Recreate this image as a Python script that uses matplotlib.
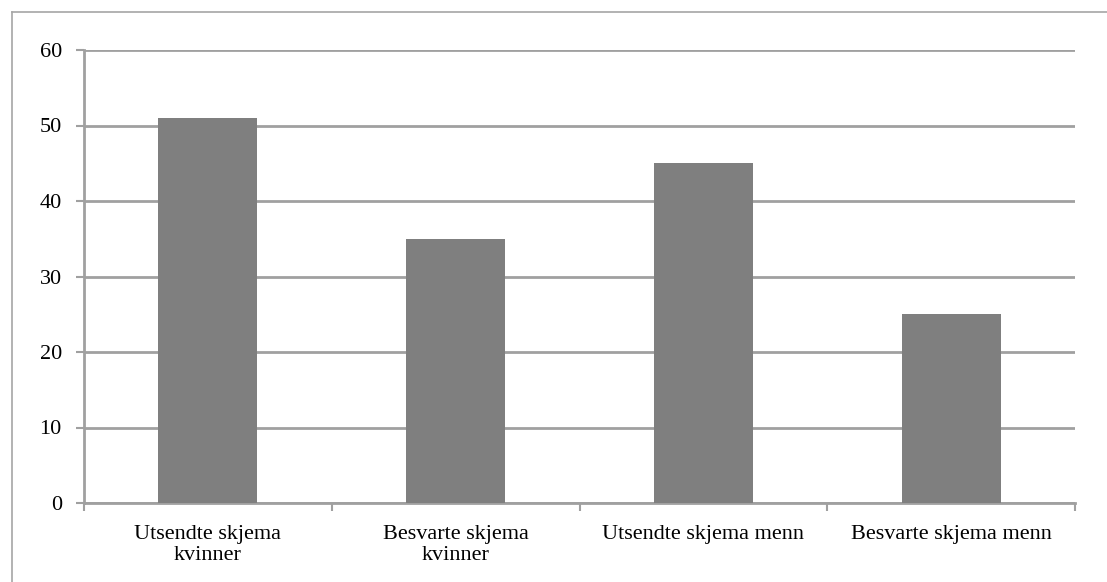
import matplotlib
matplotlib.use("Agg")
import matplotlib.pyplot as plt
from matplotlib.lines import Line2D

categories = ["Utsendte skjema\nkvinner", "Besvarte skjema\nkvinner",
              "Utsendte skjema menn", "Besvarte skjema menn"]
values = [51, 35, 45, 25]
yticks = [0, 10, 20, 30, 40, 50, 60]

W, H = 1107, 582
fig = plt.figure(figsize=(W / 100, H / 100), dpi=100)
plt.rcParams['font.family'] = ['Liberation Serif', 'DejaVu Serif']

# light frame (left and top edges) around the chart area
frame_c = '#a6a6a6'
fx, fy = 11.5 / W, 1 - 11.5 / H
fig.lines.append(Line2D([fx, fx], [0, fy], transform=fig.transFigure, color=frame_c, linewidth=1.2))
fig.lines.append(Line2D([fx, 1], [fy, fy], transform=fig.transFigure, color=frame_c, linewidth=1.2))

ax = fig.add_axes([84 / W, 1 - 503 / H, (1075 - 84) / W, (503 - 50) / H])
grid_c = '#a0a0a0'

x = range(len(categories))
ax.bar(x, values, width=0.4, color='#7f7f7f', zorder=3)

ax.set_xlim(-0.5, len(categories) - 0.5)
ax.set_ylim(0, 60)
ax.set_yticks(yticks)
ax.yaxis.grid(True, color=grid_c, linewidth=2, zorder=0)

for side in ['top', 'right']:
    ax.spines[side].set_visible(False)
ax.spines['left'].set_color(grid_c)
ax.spines['left'].set_linewidth(2)
ax.spines['bottom'].set_color(grid_c)
ax.spines['bottom'].set_linewidth(2)

# category labels centred, tick marks at the boundaries
ax.set_xticks([i + 0.5 for i in range(-1, len(categories))])
ax.set_xticklabels([])
ax.set_xticks(list(x), minor=True)
ax.set_xticklabels(categories, minor=True, fontsize=16, linespacing=1.12)
ax.tick_params(axis='x', which='minor', length=0, pad=16)
ax.tick_params(axis='x', which='major', length=6, width=1.5, color=grid_c)
ax.tick_params(axis='y', length=6, width=1.5, color=grid_c, labelsize=16, pad=10)

fig.savefig("out.png", dpi=100)
